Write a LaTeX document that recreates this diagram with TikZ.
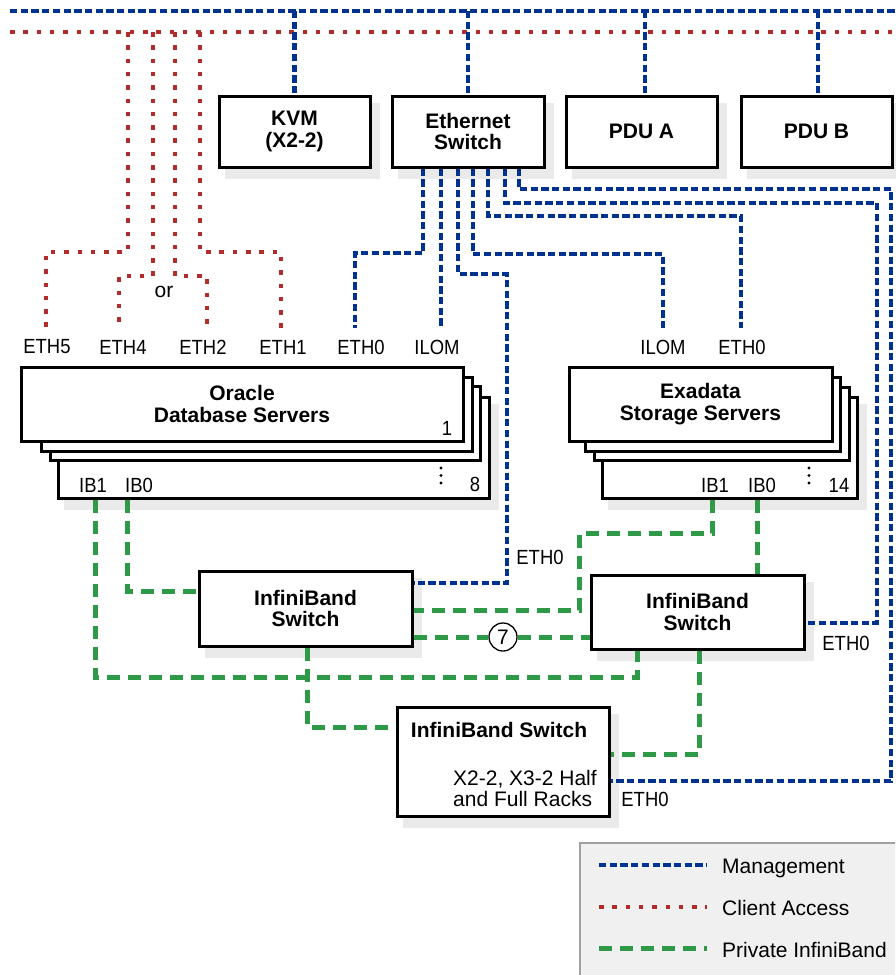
\documentclass[tikz,border=0pt]{standalone}
\usepackage{fontspec}
\setmainfont{Liberation Sans}
\newfontfamily\portfam[FakeStretch=0.9]{Liberation Sans}
\usetikzlibrary{calc}
\pgfdeclarelayer{bg}
\pgfsetlayers{bg,main}
\definecolor{mgmt}{HTML}{00338F}
\definecolor{client}{HTML}{B22C2C}
\definecolor{ibc}{HTML}{2E9A48}
\definecolor{shadowgray}{HTML}{E9EAE9}
\definecolor{legbg}{HTML}{F0F0F0}
\definecolor{legborder}{HTML}{A0A0A0}
\newcommand\bfsz{\fontsize{21}{21.5}\selectfont\bfseries}
\newcommand\rgsz{\fontsize{21}{21}\selectfont}
\newcommand\ptsz{\portfam\fontsize{20.5}{21}\selectfont}
\begin{document}
\begin{tikzpicture}[x=1pt,y=-1pt,
  mgmtline/.style={draw=mgmt, line width=4.5pt, dash pattern=on 7.3pt off 3.4pt},
  clientline/.style={draw=client, line width=4.5pt, dash pattern=on 4.5pt off 8.8pt},
  ibline/.style={draw=ibc, line width=5pt, dash pattern=on 13pt off 8pt},
  box/.style={draw=black, line width=3pt, fill=white, inner sep=0pt, align=center, font=\bfsz},
  port/.style={font=\ptsz, inner xsep=0pt, inner ysep=12pt},
  plain/.style={font=\ptsz, inner sep=0pt},
  legtext/.style={font=\rgsz, inner sep=0pt, anchor=base west},
  dot/.style={fill=black}
]
\useasboundingbox (0,0) rectangle (895,975);
\clip (0,0) rectangle (895,975);

% top buses
\coordinate (mL) at (10,11);
\coordinate (mR) at (900,11);
\coordinate (cL) at (10,32);
\coordinate (cR) at (900,32);

% top boxes
\node[box, minimum width=151pt, minimum height=71pt] (kvm) at (294.5,131.5) {KVM\\(X2-2)};
\node[box, minimum width=152pt, minimum height=71pt] (eth) at (468,131.5) {Ethernet\\Switch};
\node[box, minimum width=151pt, minimum height=71pt] (pdua) at (641.5,131.5) {PDU A};
\node[box, minimum width=151pt, minimum height=71pt] (pdub) at (816.5,131.5) {PDU B};

% database server stack
\node[box, minimum width=431pt, minimum height=101pt] (dbB) at (273.5,447.5) {};
\node[box, minimum width=430pt, minimum height=74pt] (db3) at (265,423) {};
\node[box, minimum width=431pt, minimum height=74pt] (db2) at (256.5,414) {};
\node[box, minimum width=442pt, minimum height=74pt] (db1) at (242,404) {Oracle\\Database Servers};
\node[plain] (dbn1) at (447,428) {1};
\node[plain] (dbn8) at (475,484) {8};
\fill[dot] (441,468) circle[radius=1.7pt] (441,475.5) circle[radius=1.7pt] (441,483) circle[radius=1.7pt];
\node[plain] (dbib1) at (93,485) {IB1};
\node[plain] (dbib0) at (139,485) {IB0};

% storage server stack
\node[box, minimum width=255pt, minimum height=101pt] (stB) at (729.5,447.5) {};
\node[box, minimum width=255pt, minimum height=73pt] (st3) at (721.5,423.5) {};
\node[box, minimum width=255pt, minimum height=74pt] (st2) at (712.5,414) {};
\node[box, minimum width=263pt, minimum height=74pt] (st1) at (700.5,404) {Exadata\\Storage Servers};
\node[plain] (stn14) at (839,485) {14};
\fill[dot] (809,468) circle[radius=1.7pt] (809,475.5) circle[radius=1.7pt] (809,483) circle[radius=1.7pt];
\node[plain] (stib1) at (715,485) {IB1};
\node[plain] (stib0) at (762,485) {IB0};

% port labels above servers
\node[port] (dbeth5) at (47,347) {ETH5};
\node[port] (dbeth4) at (123,347) {ETH4};
\node[port] (dbeth2) at (203,347) {ETH2};
\node[port] (dbeth1) at (283,347) {ETH1};
\node[port] (dbeth0) at (361,347) {ETH0};
\node[port] (dbilom) at (437,347) {ILOM};
\node[port] (stilom) at (663,347) {ILOM};
\node[port] (steth0) at (742,347) {ETH0};
\node[font=\rgsz, inner sep=0pt] (or) at (164,292) {or};

% InfiniBand switches
\node[box, minimum width=213pt, minimum height=75pt] (ib1) at (305.5,608.5) {InfiniBand\\Switch};
\node[box, minimum width=213pt, minimum height=74pt] (ib2) at (697.5,612) {InfiniBand\\Switch};
\node[box, minimum width=212pt, minimum height=109pt] (ib3) at (503,761.5) {};
\node[font=\bfsz, inner sep=0pt] (ib3t) at (499,730) {InfiniBand Switch};
\node[font=\rgsz, inner sep=0pt, anchor=base west] (ib3s1) at (453,785) {X2-2, X3-2 Half};
\node[font=\rgsz, inner sep=0pt, anchor=base west] (ib3s2) at (453,806) {and Full Racks};

\node[plain] (ib1eth0) at (540,557) {ETH0};
\node[plain] (ib2eth0) at (846,643) {ETH0};
\node[plain] (ib3eth0) at (645,799) {ETH0};

% shadows
\begin{pgfonlayer}{bg}
\foreach \n in {kvm,eth,pdua,pdub,dbB,stB,ib1,ib2,ib3}{
  \fill[shadowgray] ($(\n.north west)+(7,8)$) rectangle ($(\n.south east)+(8,10)$);
}
\end{pgfonlayer}

% client access network
\draw[clientline] (cL) -- (cR);
\draw[clientline] (cL -| 128,0) |- (46,252) -- (46,0 |- dbeth5.north);
\draw[clientline] (cL -| 153,0) |- (119,276) -- (119,0 |- dbeth4.north);
\draw[clientline] (cL -| 175,0) |- (207,276) -- (207,0 |- dbeth2.north);
\draw[clientline] (cL -| 200,0) |- (281,252) -- (281,0 |- dbeth1.north);

% management network
\draw[mgmtline] (mL) -- (mR);
\draw[mgmtline] (kvm.north |- mL) -- (kvm.north);
\draw[mgmtline] (eth.north |- mL) -- (eth.north);
\draw[mgmtline] (mL -| 645,0) -- (pdua.north -| 645,0);
\draw[mgmtline] (mL -| 818,0) -- (pdub.north -| 818,0);
\draw[mgmtline] (eth.south -| 423,0) |- (355,253) -- (355,0 |- dbeth0.north);
\draw[mgmtline] (eth.south -| 441,0) -- (441,0 |- dbilom.north);
\draw[mgmtline] (eth.south -| 458,0) |- (507,274) |- (ib1.east |- 0,583);
\draw[mgmtline] (eth.south -| 473,0) |- (663,254) -- (663,0 |- stilom.north);
\draw[mgmtline] (eth.south -| 488,0) |- (741,216) -- (741,0 |- steth0.north);
\draw[mgmtline] (eth.south -| 505,0) |- (877,203) |- (ib2.east |- 0,623);
\draw[mgmtline] (eth.south -| 519,0) |- (891,189) |- (ib3.east |- 0,781);

% private InfiniBand network
\draw[ibline] (dbB.south -| 95,0) |- (637,677) -- (ib2.south -| 637,0);
\draw[ibline] (dbB.south -| 127,0) |- (ib1.west |- 0,591);
\draw[ibline] (ib1.south -| 307,0) |- (ib3.west |- 0,727);
\draw[ibline] (stB.south -| 712,0) |- (579,533) |- (ib1.east |- 0,610);
\draw[ibline] (stB.south -| 757,0) -- (ib2.north -| 757,0);
\draw[ibline] (ib2.south -| 699,0) |- (ib3.east |- 0,754);
\node[circle, draw=black, line width=1.3pt, fill=white, minimum size=28pt, inner sep=0pt, font=\rgsz] (seven) at (503,637) {7};
\draw[ibline] (ib1.east |- 0,637) -- (seven.west);
\draw[ibline] (seven.east) -- (ib2.west |- 0,637);

% legend
\draw[draw=legborder, fill=legbg, line width=2pt] (580,843) rectangle (910,990);
\coordinate (lm1) at (599,865); \coordinate (lm2) at (707,865);
\coordinate (lc1) at (599,907); \coordinate (lc2) at (707,907);
\coordinate (li1) at (599,948); \coordinate (li2) at (707,948);
\draw[mgmtline] (lm1) -- (lm2);
\draw[clientline] (lc1) -- (lc2);
\draw[ibline] (li1) -- (li2);
\node[legtext] (lmt) at (722,873) {Management};
\node[legtext] (lct) at (722,915) {Client Access};
\node[legtext] (lit) at (722,957) {Private InfiniBand};
\end{tikzpicture}
\end{document}
